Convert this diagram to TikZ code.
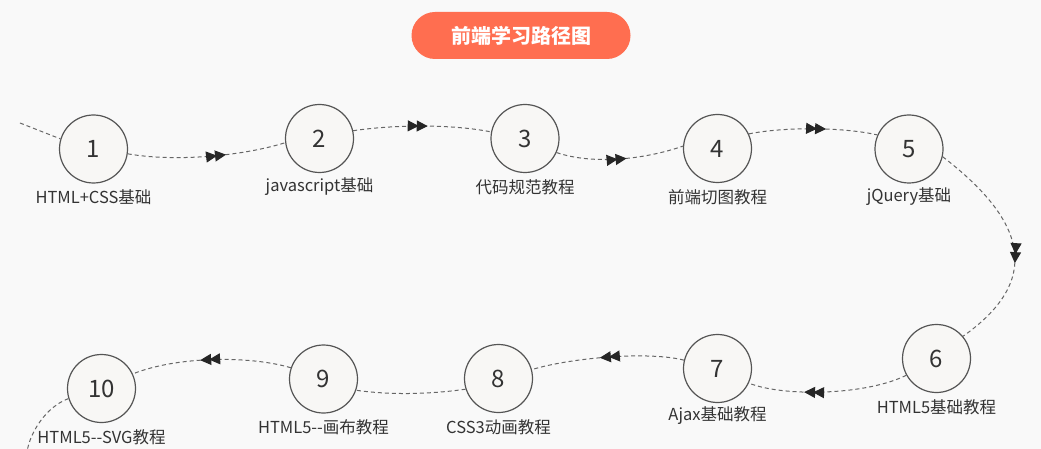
\documentclass[tikz,border=0pt]{standalone}
\usepackage{fontspec}
\setmainfont{Noto Sans CJK SC}
\usetikzlibrary{arrows.meta,decorations.markings}
\definecolor{bgc}{HTML}{F9F9F9}
\definecolor{titlec}{HTML}{FF6E50}
\definecolor{circc}{HTML}{555555}
\definecolor{circfill}{HTML}{F8F7F5}
\definecolor{txtc}{HTML}{333333}
\definecolor{linec}{HTML}{666666}
\definecolor{arrc}{HTML}{262626}
\tikzset{
  circ/.style={circle, draw=circc, line width=1.2pt, fill=circfill, minimum size=68pt, inner sep=0pt, text=txtc, font=\fontsize{24}{28}\selectfont},
  lab/.style={text=txtc, inner sep=0pt, font=\fontsize{16.5}{19}\selectfont},
  conn/.style={draw=linec, line width=1pt, dash pattern=on 4pt off 3pt},
  arr/.style={postaction={decorate}, decoration={markings, mark=at position #1 with {\arrow[arrc]{Triangle[length=11pt,width=11pt,sep=-2pt] Triangle[length=11pt,width=11pt]}}}},
  titlebox/.style={rounded corners=23.5pt, fill=titlec, minimum width=219pt, minimum height=47pt, inner sep=0pt, text=white, font=\fontsize{20}{24}\selectfont\bfseries}
}
\begin{document}
\begin{tikzpicture}[x=1pt,y=-1pt]
\fill[bgc] (0,0) rectangle (1041,449);
\useasboundingbox (0,0) rectangle (1041,449);

\node[titlebox] (title) at (521,35.5) {前端学习路径图};

\node[circ] (c1) at (93.5,149) {1};
\node[circ] (c2) at (319.5,138.5) {2};
\node[circ] (c3) at (525,138.5) {3};
\node[circ] (c4) at (717.5,148.5) {4};
\node[circ] (c5) at (909,149) {5};
\node[circ] (c6) at (936.5,358.5) {6};
\node[circ] (c7) at (717.5,368.5) {7};
\node[circ] (c8) at (498.5,378.5) {8};
\node[circ] (c9) at (323.5,379) {9};
\node[circ] (c10) at (101.5,388.5) {10};

\node[lab] (l1) at (93.5,197) {HTML+CSS基础};
\node[lab] (l2) at (319.5,187) {javascript基础};
\node[lab] (l3) at (525,187) {代码规范教程};
\node[lab] (l4) at (717.5,197) {前端切图教程};
\node[lab] (l5) at (909,197) {jQuery基础};
\node[lab] (l6) at (936.5,407) {HTML5基础教程};
\node[lab] (l7) at (717.5,416) {Ajax基础教程};
\node[lab] (l8) at (498.5,427) {CSS3动画教程};
\node[lab] (l9) at (323.5,427) {HTML5-{}-画布教程};
\node[lab] (l10) at (101.5,437) {HTML5-{}-SVG教程};

\coordinate (start) at (20,123);
\coordinate (finish) at (27,452);

\draw[conn] (start) -- (c1.163);
\draw[conn, arr=0.62] (c1.-8) .. controls +(45,8) and +(-45,14) .. (c2.187);
\draw[conn, arr=0.54] (c2.13) .. controls +(40,-6) and +(-40,-8) .. (c3.169);
\draw[conn, arr=0.55] (c3.-24) .. controls +(35,12) and +(-40,14) .. (c4.176);
\draw[conn, arr=0.6] (c4.25) .. controls +(35,-7) and +(-35,-8) .. (c5.156);
\draw[conn, arr=0.59] (c5.-13) .. controls +(86,66) and +(78,-55) .. (c6.40);
\draw[conn, arr=0.65] (c6.209) .. controls +(-40,20) and +(35,14) .. (c7.-25);
\draw[conn, arr=0.55] (c7.166) .. controls +(-35,-9) and +(40,-12) .. (c8.15);
\draw[conn] (c8.198) .. controls +(-35,5) and +(35,5) .. (c9.-19);
\draw[conn, arr=0.57] (c9.161) .. controls +(-40,-12) and +(45,-18) .. (c10.25);
\draw[conn] (c10.197) .. controls +(-22,8) and +(3,-20) .. (finish);
\end{tikzpicture}
\end{document}
